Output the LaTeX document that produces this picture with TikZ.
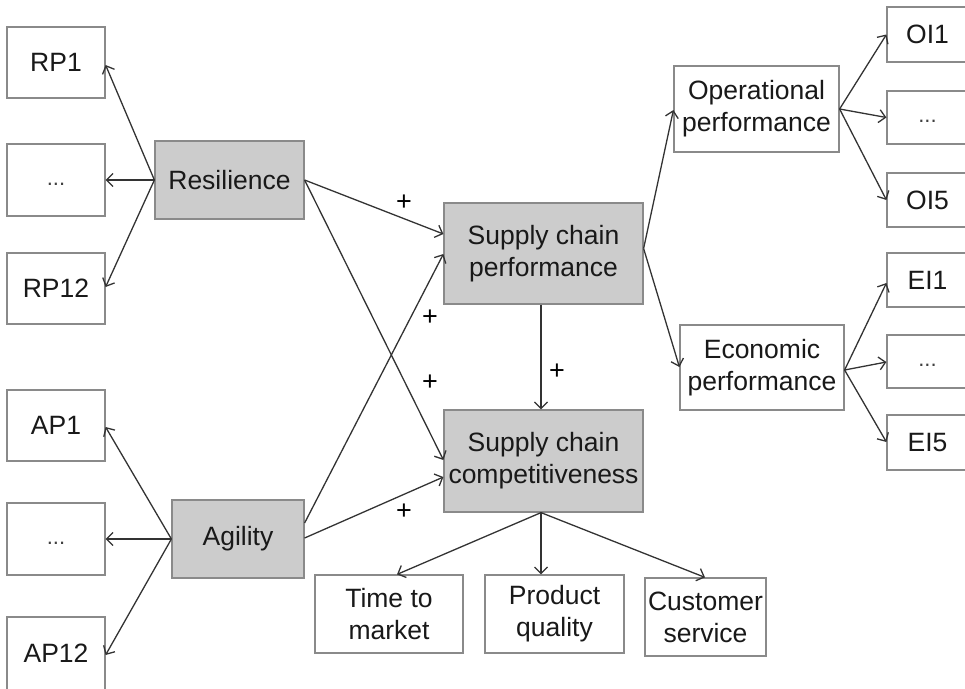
\documentclass[tikz,border=0pt]{standalone}
\usepackage{fontspec}
\setmainfont{Liberation Sans}
\usetikzlibrary{arrows.meta,calc}
\definecolor{boxgray}{HTML}{CCCCCC}
\definecolor{edgegray}{HTML}{8A8A8A}
\definecolor{linegray}{HTML}{333333}
\begin{document}
\begin{tikzpicture}[x=1pt,y=-1pt,
  box/.style={draw=edgegray, line width=1.2pt, fill=white, inner sep=0pt, align=center,
    font=\fontsize{26.5}{32}\selectfont, text=black!90},
  gbox/.style={box, fill=boxgray},
  dots/.style={box, font=\fontsize{22}{26}\selectfont, text=black!75, text height=0pt, text depth=0pt},
  arr/.style={draw=linegray, line width=1.3pt, -{Straight Barb[length=6.5pt,width=13pt]}},
  plus/.style={font=\fontsize{27}{27}\selectfont, inner sep=0pt, text=black}]
\useasboundingbox (0,0) rectangle (965,688);
% left indicator boxes
\node[box, minimum width=98pt, minimum height=71pt] (rp1)  at (56,62.5) {RP1};
\node[dots, minimum width=98pt, minimum height=72pt] (rpd)  at (56,180) {\raisebox{-5pt}{...}};
\node[box, minimum width=98pt, minimum height=71pt] (rp12) at (56,288.5) {RP12};
\node[box, minimum width=98pt, minimum height=71pt] (ap1)  at (56,425.5) {AP1};
\node[dots, minimum width=98pt, minimum height=72pt] (apd)  at (56,539) {\raisebox{-5pt}{...}};
\node[box, minimum width=98pt, minimum height=73pt] (ap12) at (56,653.5) {AP12};
% main constructs
\node[gbox, minimum width=149pt, minimum height=78pt] (res) at (229.5,180) {Resilience};
\node[gbox, minimum width=132pt, minimum height=78pt] (agi) at (238,539) {Agility};
\node[gbox, minimum width=199pt, minimum height=101pt] (scp) at (543.5,253.5) {Supply chain\\performance};
\node[gbox, minimum width=199pt, minimum height=102pt] (scc) at (543.5,461) {Supply chain\\competitiveness};
% performance dimensions
\node[box, minimum width=165pt, minimum height=86pt] (op) at (756.5,109) {Operational\\performance};
\node[box, minimum width=164pt, minimum height=85pt] (ep) at (762,367.5) {Economic\\performance};
% right indicator boxes
\node[box, minimum width=81pt, minimum height=55pt] (oi1) at (927.5,34.5) {OI1};
\node[dots, minimum width=81pt, minimum height=53pt] (oid) at (927.5,117.5) {\raisebox{-5pt}{...}};
\node[box, minimum width=81pt, minimum height=54pt] (oi5) at (927.5,200) {OI5};
\node[box, minimum width=81pt, minimum height=54pt] (ei1) at (927.5,280) {EI1};
\node[dots, minimum width=81pt, minimum height=53pt] (eid) at (927.5,361.5) {\raisebox{-5pt}{...}};
\node[box, minimum width=81pt, minimum height=55pt] (ei5) at (927.5,442.5) {EI5};
% competitiveness dimensions
\node[box, minimum width=148pt, minimum height=78pt] (ttm) at (389,614) {Time to\\market};
\node[box, minimum width=139pt, minimum height=78pt] (pq)  at (554.5,614) {Product\\quality};
\node[box, minimum width=121pt, minimum height=78pt] (cs)  at (705.5,617) {Customer\\service};
% resilience indicators
\draw[arr] (res.west) -- ($(rp1.east)+(0,2.5)$);
\draw[arr] (res.west) -- (rpd.east);
\draw[arr] (res.west) -- ($(rp12.east)+(0,-1.5)$);
% agility indicators
\draw[arr] (agi.west) -- ($(ap1.east)+(0,1.5)$);
\draw[arr] (agi.west) -- (apd.east);
\draw[arr] (agi.west) -- ($(ap12.east)+(0,1.5)$);
% structural paths
\draw[arr] (res.east) -- ($(scp.west)+(0,-19.5)$);
\draw[arr] (res.east) -- ($(scc.west)+(0,-1)$);
\draw[arr] ($(agi.east)+(0,-16)$) -- ($(scp.west)+(0,0.5)$);
\draw[arr] ($(agi.east)+(0,-1)$) -- ($(scc.west)+(0,16)$);
\draw[arr] ($(scp.south)+(-2.5,0)$) -- ($(scc.north)+(-2.5,0)$);
% performance dimensions
\draw[arr] ($(scp.east)+(0,-5)$) -- ($(op.west)+(0,1)$);
\draw[arr] ($(scp.east)+(0,-5)$) -- ($(ep.west)+(0,-0.5)$);
\draw[arr] (op.east) -- (oi1.west);
\draw[arr] (op.east) -- (oid.west);
\draw[arr] (op.east) -- (oi5.west);
\draw[arr] ($(ep.east)+(0,2.5)$) -- ($(ei1.west)+(0,3)$);
\draw[arr] ($(ep.east)+(0,2.5)$) -- ($(eid.west)+(0,0.5)$);
\draw[arr] ($(ep.east)+(0,2.5)$) -- ($(ei5.west)+(0,-0.5)$);
% competitiveness dimensions
\draw[arr] ($(scc.south)+(-2.5,0)$) -- ($(ttm.north)+(8,0)$);
\draw[arr] ($(scc.south)+(-2.5,0)$) -- ($(pq.north)+(-13.5,0)$);
\draw[arr] ($(scc.south)+(-2.5,0)$) -- ($(cs.north)+(-0.5,0)$);
% plus signs
\node[plus] (p1) at (404,203) {+};
\node[plus] (p2) at (430,318) {+};
\node[plus] (p3) at (430,383) {+};
\node[plus] (p4) at (557,372) {+};
\node[plus] (p5) at (404,512) {+};
\end{tikzpicture}
\end{document}
